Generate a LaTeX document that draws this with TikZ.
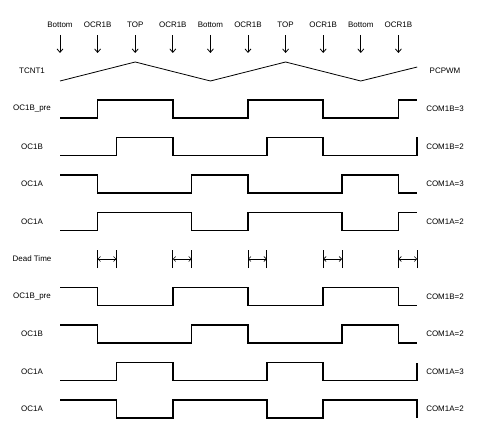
\documentclass[tikz,border=0pt]{standalone}
\usepackage{fontspec}
\setmainfont{Liberation Sans}
\usetikzlibrary{arrows.meta, positioning}

\tikzset{
  wave/.style={line width=1.5bp, line join=miter},
  lbl/.style={font=\fontsize{8}{9}\selectfont, inner sep=1bp},
  evarrow/.style={line width=0.8bp, -{Straight Barb[length=3.5bp,width=6bp]}},
  dtbar/.style={line width=0.8bp},
  dtarrow/.style={line width=0.6bp, {Straight Barb[length=2.5bp,width=5bp]}-{Straight Barb[length=2.5bp,width=5bp]}}
}
\newcommand{\sigwave}[2]{%
  \begin{scope}[shift={(60,{118+37.5*#1})}, x=18.8bp]
    \draw[wave] #2;
  \end{scope}}

\begin{document}
\begin{tikzpicture}[x=1bp, y=-1bp]
\useasboundingbox (0,0) rectangle (486,435);
% counter events
\foreach \k/\ev in {0/Bottom,1/OCR1B,2/TOP,3/OCR1B,4/Bottom,5/OCR1B,6/TOP,7/OCR1B,8/Bottom,9/OCR1B}{
  \node[lbl] (ev\k) at ({60+37.6*\k},25) {\ev};
  \coordinate (tip\k) at ({60+37.6*\k},53);
  \draw[evarrow, shorten <=6bp] (ev\k.south) -- (tip\k);
}
\node[lbl] (tcnt) at (32,71) {TCNT1};
\node[lbl] (pcpwm) at (445,71) {PCPWM};
\draw[line width=0.8bp] (60,81) -- (135.2,62) -- (210.4,81) -- (285.6,62) -- (360.8,81) -- (417.2,67);
% row labels
\foreach \i/\name/\mode in {0/OC1B\_pre/COM1B=3, 1/OC1B/COM1B=2, 2/OC1A/COM1A=3, 3/OC1A/COM1A=2,
    5/OC1B\_pre/COM1B=2, 6/OC1B/COM1A=2, 7/OC1A/COM1A=3, 8/OC1A/COM1A=2}{
  \node[lbl] (nm\i) at (32,{109+37.5*\i}) {\name};
  \node[lbl] (md\i) at (445,{109+37.5*\i}) {\mode};
}
\node[lbl] (nm4) at (32,259) {Dead Time};
% waveforms
\sigwave{0}{(0,0) -| (2,-18) -| (6,0) -| (10,-18) -| (14,0) -| (18,-18) -- (19,-18)}
\sigwave{1}{(0,0) -| (3,-18) -| (6,0) -| (11,-18) -| (14,0) -| (19,-18)}
\sigwave{2}{(0,-18) -| (2,0) -| (7,-18) -| (10,0) -| (15,-18) -| (18,0) -- (19,0)}
\sigwave{3}{(0,0) -| (2,-18) -| (7,0) -| (10,-18) -| (15,0) -| (18,-18) -- (19,-18)}
\sigwave{5}{(0,-18) -| (2,0) -| (6,-18) -| (10,0) -| (14,-18) -| (18,0) -- (19,0)}
\sigwave{6}{(0,-18) -| (2,0) -| (7,-18) -| (10,0) -| (15,-18) -| (18,0) -- (19,0)}
\sigwave{7}{(0,0) -| (3,-18) -| (6,0) -| (11,-18) -| (14,0) -| (19,-18)}
\sigwave{8}{(0,-18) -| (3,0) -| (6,-18) -| (11,0) -| (14,-18) -| (19,0)}
% dead time
\begin{scope}[shift={(60,268)}, x=18.8bp]
\foreach \a in {2,6,10,14,18}{
  \draw[dtbar] (\a,0) -- (\a,-18);
  \draw[dtbar] ({\a+1},0) -- ({\a+1},-18);
  \coordinate (dl\a) at (\a,-9);
  \coordinate (dr\a) at ({\a+1},-9);
  \draw[dtarrow] (dl\a) -- (dr\a);
}
\end{scope}
\end{tikzpicture}
\end{document}
